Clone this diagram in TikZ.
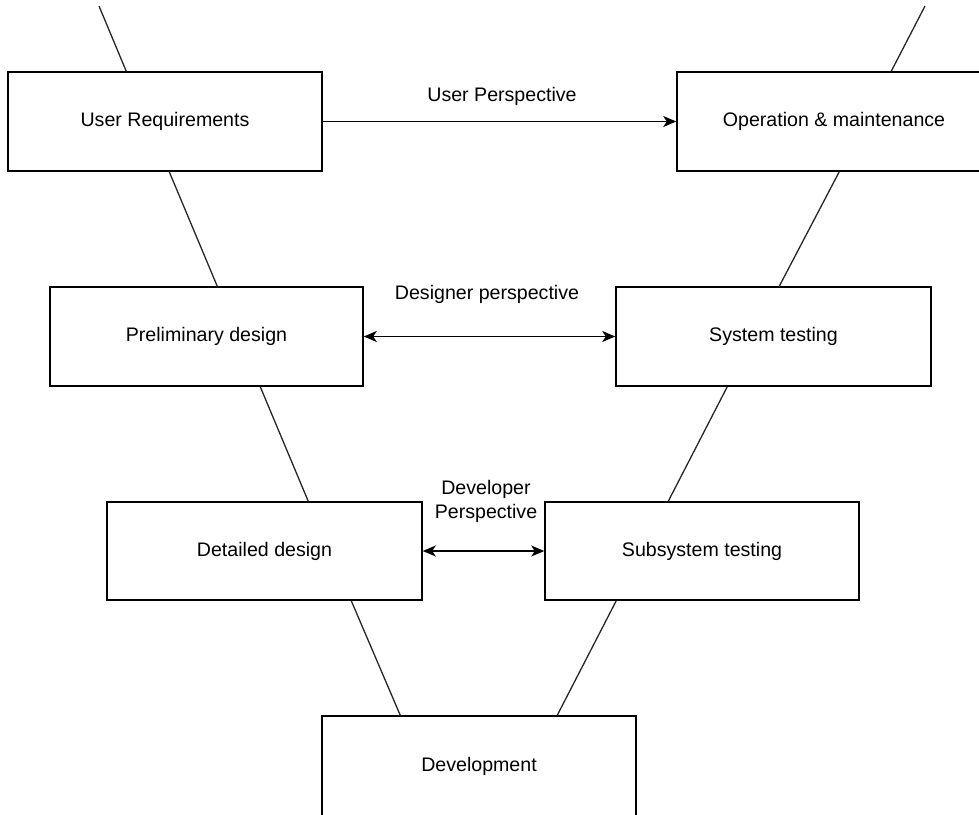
\documentclass[tikz,border=0pt]{standalone}
\usepackage{fontspec}
\setmainfont{Liberation Sans}
\usetikzlibrary{arrows.meta}

\tikzset{
  phase/.style={draw=black, line width=1.5pt, rectangle, minimum width=314pt,
    minimum height=99pt, inner sep=0pt, font=\fontsize{19.6}{23.5}\selectfont},
  vline/.style={draw=black!85, line width=1.3pt},
  persp/.style={line width=1.7pt,
    arrows={-Stealth[length=13pt,width=11pt,inset=3.5pt]}},
  bothpersp/.style={line width=1.7pt,
    arrows={Stealth[length=13pt,width=11pt,inset=3.5pt]-Stealth[length=13pt,width=11pt,inset=3.5pt]}},
  tag/.style={inner sep=0pt, align=center,
    font=\fontsize{19.6}{23.5}\selectfont}
}

\begin{document}
\begin{tikzpicture}[x=1pt,y=-1pt]
\useasboundingbox (0,0) rectangle (979,814);
\clip (0,0) rectangle (979,814);

% phases of the V
\node[phase] (ur)  at (165,121.5)  {User Requirements};
\node[phase] (om)  at (834,121.5)  {Operation \& maintenance};
\node[phase, minimum width=313pt] (pd) at (206.5,336.5) {Preliminary design};
\node[phase, minimum width=315pt] (st) at (773.5,336.5) {System testing};
\node[phase, minimum width=315pt, minimum height=98pt] (dd) at (264.5,551) {Detailed design};
\node[phase, minimum height=98pt] (sub) at (702,551) {Subsystem testing};
\node[phase, minimum height=100pt] (dev) at (479,766) {Development};

% free ends at the top edge
\coordinate (tl) at (99,6);
\coordinate (tr) at (925,6);

% left arm of the V
\draw[vline] (tl) -- ([xshift=119pt]ur.north west);
\draw[vline] ([xshift=162pt]ur.south west) -- ([xshift=168pt]pd.north west);
\draw[vline] ([xshift=211pt]pd.south west) -- ([xshift=202pt]dd.north west);
\draw[vline] ([xshift=245pt]dd.south west) -- ([xshift=79pt]dev.north west);

% right arm of the V
\draw[vline] (tr) -- ([xshift=215pt]om.north west);
\draw[vline] ([xshift=163pt]om.south west) -- ([xshift=164pt]st.north west);
\draw[vline] ([xshift=112pt]st.south west) -- ([xshift=124pt]sub.north west);
\draw[vline] ([xshift=72pt]sub.south west) -- ([xshift=236pt]dev.north west);

% perspectives
\draw[persp] (ur.east) -- (om.west);
\draw[bothpersp] (pd.east) -- (st.west);
\draw[bothpersp] (dd.east) -- (sub.west);

\node[tag] (lu) at (502,96)    {User Perspective};
\node[tag] (ld) at (487,294.5) {Designer perspective};
\node[tag] (lv) at (486,501.5) {Developer\\Perspective};
\end{tikzpicture}
\end{document}
